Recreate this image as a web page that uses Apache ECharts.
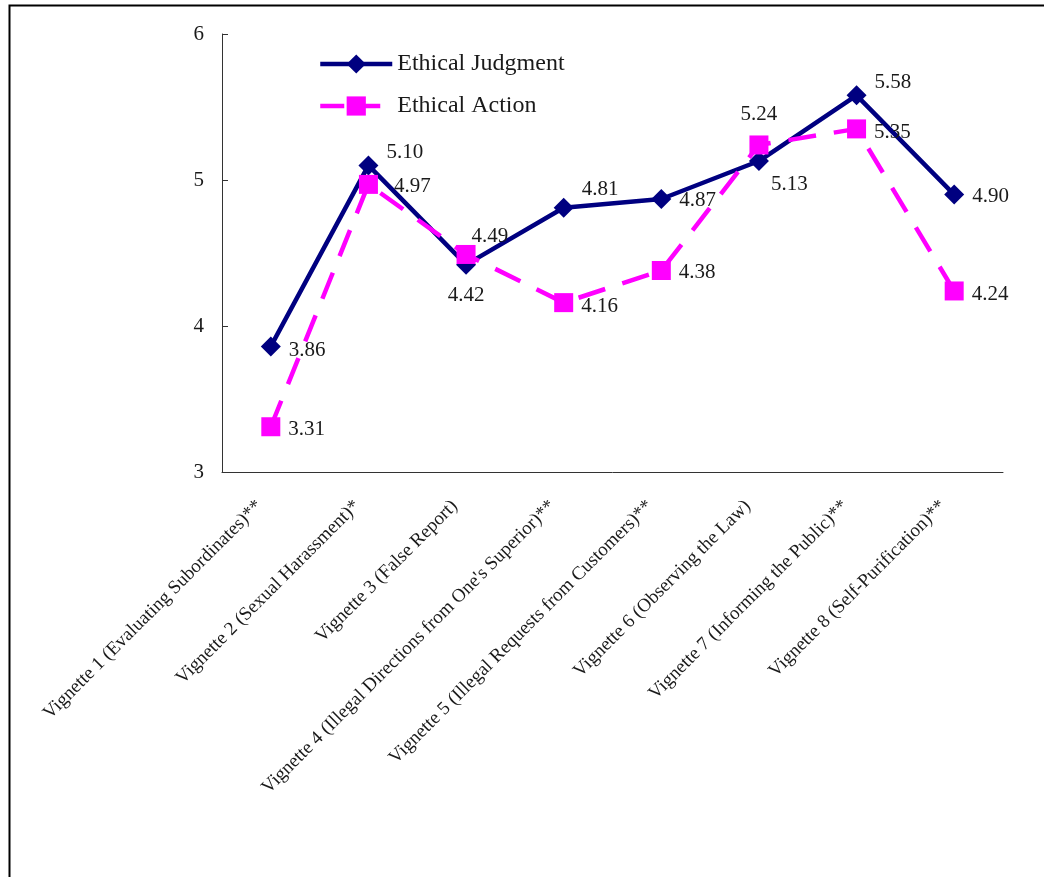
<!DOCTYPE html>
<html>
<head>
<meta charset="utf-8">
<script src="https://cdn.jsdelivr.net/npm/echarts@6/dist/echarts.min.js"></script>
<style>html,body{margin:0;padding:0;background:#fff}#c{width:1044px;height:877px}</style>
</head>
<body>
<div id="c"></div>
<script>
const categories = [
  "Vignette 1 (Evaluating Subordinates)**",
  "Vignette 2 (Sexual Harassment)*",
  "Vignette 3 (False Report)",
  "Vignette 4 (Illegal Directions from One's Superior)**",
  "Vignette 5 (Illegal Requests from Customers)**",
  "Vignette 6 (Observing the Law)",
  "Vignette 7 (Informing the Public)**",
  "Vignette 8 (Self-Purification)**"
];
const judgment = [3.86, 5.10, 4.42, 4.81, 4.87, 5.13, 5.58, 4.90];
const action = [3.31, 4.97, 4.49, 4.16, 4.38, 5.24, 5.35, 4.24];
const yTicks = [3, 4, 5, 6];

// label placement (style only)
const judgmentLabelPos = [
  ['right', [0, 4]], ['right', [0, -13]], ['bottom', [0, 2]], ['right', [0, -18]],
  ['right', [0, 2]], ['right', [-6, 23]], ['right', [0, -13]], ['right', [0, 2]]
];
const actionLabelPos = [
  ['right', [0, 3]], ['right', [8, 2]], ['right', [-12, -18]], ['right', [0, 4]],
  ['right', [0, 2]], ['top', [0, -2]], ['right', [0, 4]], ['right', [0, 4]]
];

const FONT = "'Liberation Serif', 'DejaVu Serif', serif";
const TXT = '#1a1a1a';

function items(vals, pos) {
  return vals.map((v, i) => ({
    value: v,
    label: { position: pos[i][0], offset: pos[i][1] }
  }));
}

const chart = echarts.init(document.getElementById('c'));
chart.setOption({
  animation: false,
  backgroundColor: '#fff',
  graphic: [{
    type: 'rect', left: 7, top: 3, silent: true,
    shape: { x: 0, y: 0, width: 2000, height: 2000 },
    style: { fill: 'none', stroke: '#000', lineWidth: 2 }
  }],
  grid: { left: 222, right: 41, top: 34, bottom: 405, containLabel: false },
  legend: {
    orient: 'vertical', left: 313, top: 47,
    itemWidth: 72, itemHeight: 24, itemGap: 18,
    lineStyle: { width: 4.5 },
    textStyle: { fontFamily: FONT, fontSize: 24, color: TXT },
    data: [
      { name: 'Ethical Judgment' },
      { name: 'Ethical Action', lineStyle: { type: [24, 12] } }
    ]
  },
  xAxis: {
    type: 'category', data: categories, boundaryGap: true,
    axisLine: { lineStyle: { color: '#333', width: 1 } },
    axisTick: { inside: true, length: 6, alignWithLabel: false, lineStyle: { color: '#333' } },
    axisLabel: { interval: 0, rotate: 45, margin: 20, padding: [0, 16, 0, 0], fontFamily: FONT, fontSize: 19, color: TXT }
  },
  yAxis: {
    type: 'value', min: yTicks[0], max: yTicks[yTicks.length - 1], interval: 1,
    axisLine: { show: true, lineStyle: { color: '#333', width: 1 } },
    axisTick: { show: true, inside: true, length: 6, lineStyle: { color: '#333' } },
    splitLine: { show: false },
    axisLabel: { margin: 18, fontFamily: FONT, fontSize: 21, color: TXT }
  },
  series: [
    {
      name: 'Ethical Judgment', type: 'line',
      data: items(judgment, judgmentLabelPos),
      symbol: 'diamond', symbolSize: 20,
      lineStyle: { color: '#000080', width: 4.5 },
      itemStyle: { color: '#000080' },
      label: {
        show: true, distance: 8, fontFamily: FONT, fontSize: 21, color: TXT,
        formatter: p => p.value.toFixed(2)
      },
      z: 3
    },
    {
      name: 'Ethical Action', type: 'line',
      data: items(action, actionLabelPos),
      symbol: 'rect', symbolSize: 19,
      lineStyle: { color: '#FF00FF', width: 4.5, type: [28, 18], cap: 'butt' },
      itemStyle: { color: '#FF00FF' },
      label: {
        show: true, distance: 8, fontFamily: FONT, fontSize: 21, color: TXT,
        formatter: p => p.value.toFixed(2)
      },
      z: 4
    }
  ]
});
</script>
</body>
</html>
